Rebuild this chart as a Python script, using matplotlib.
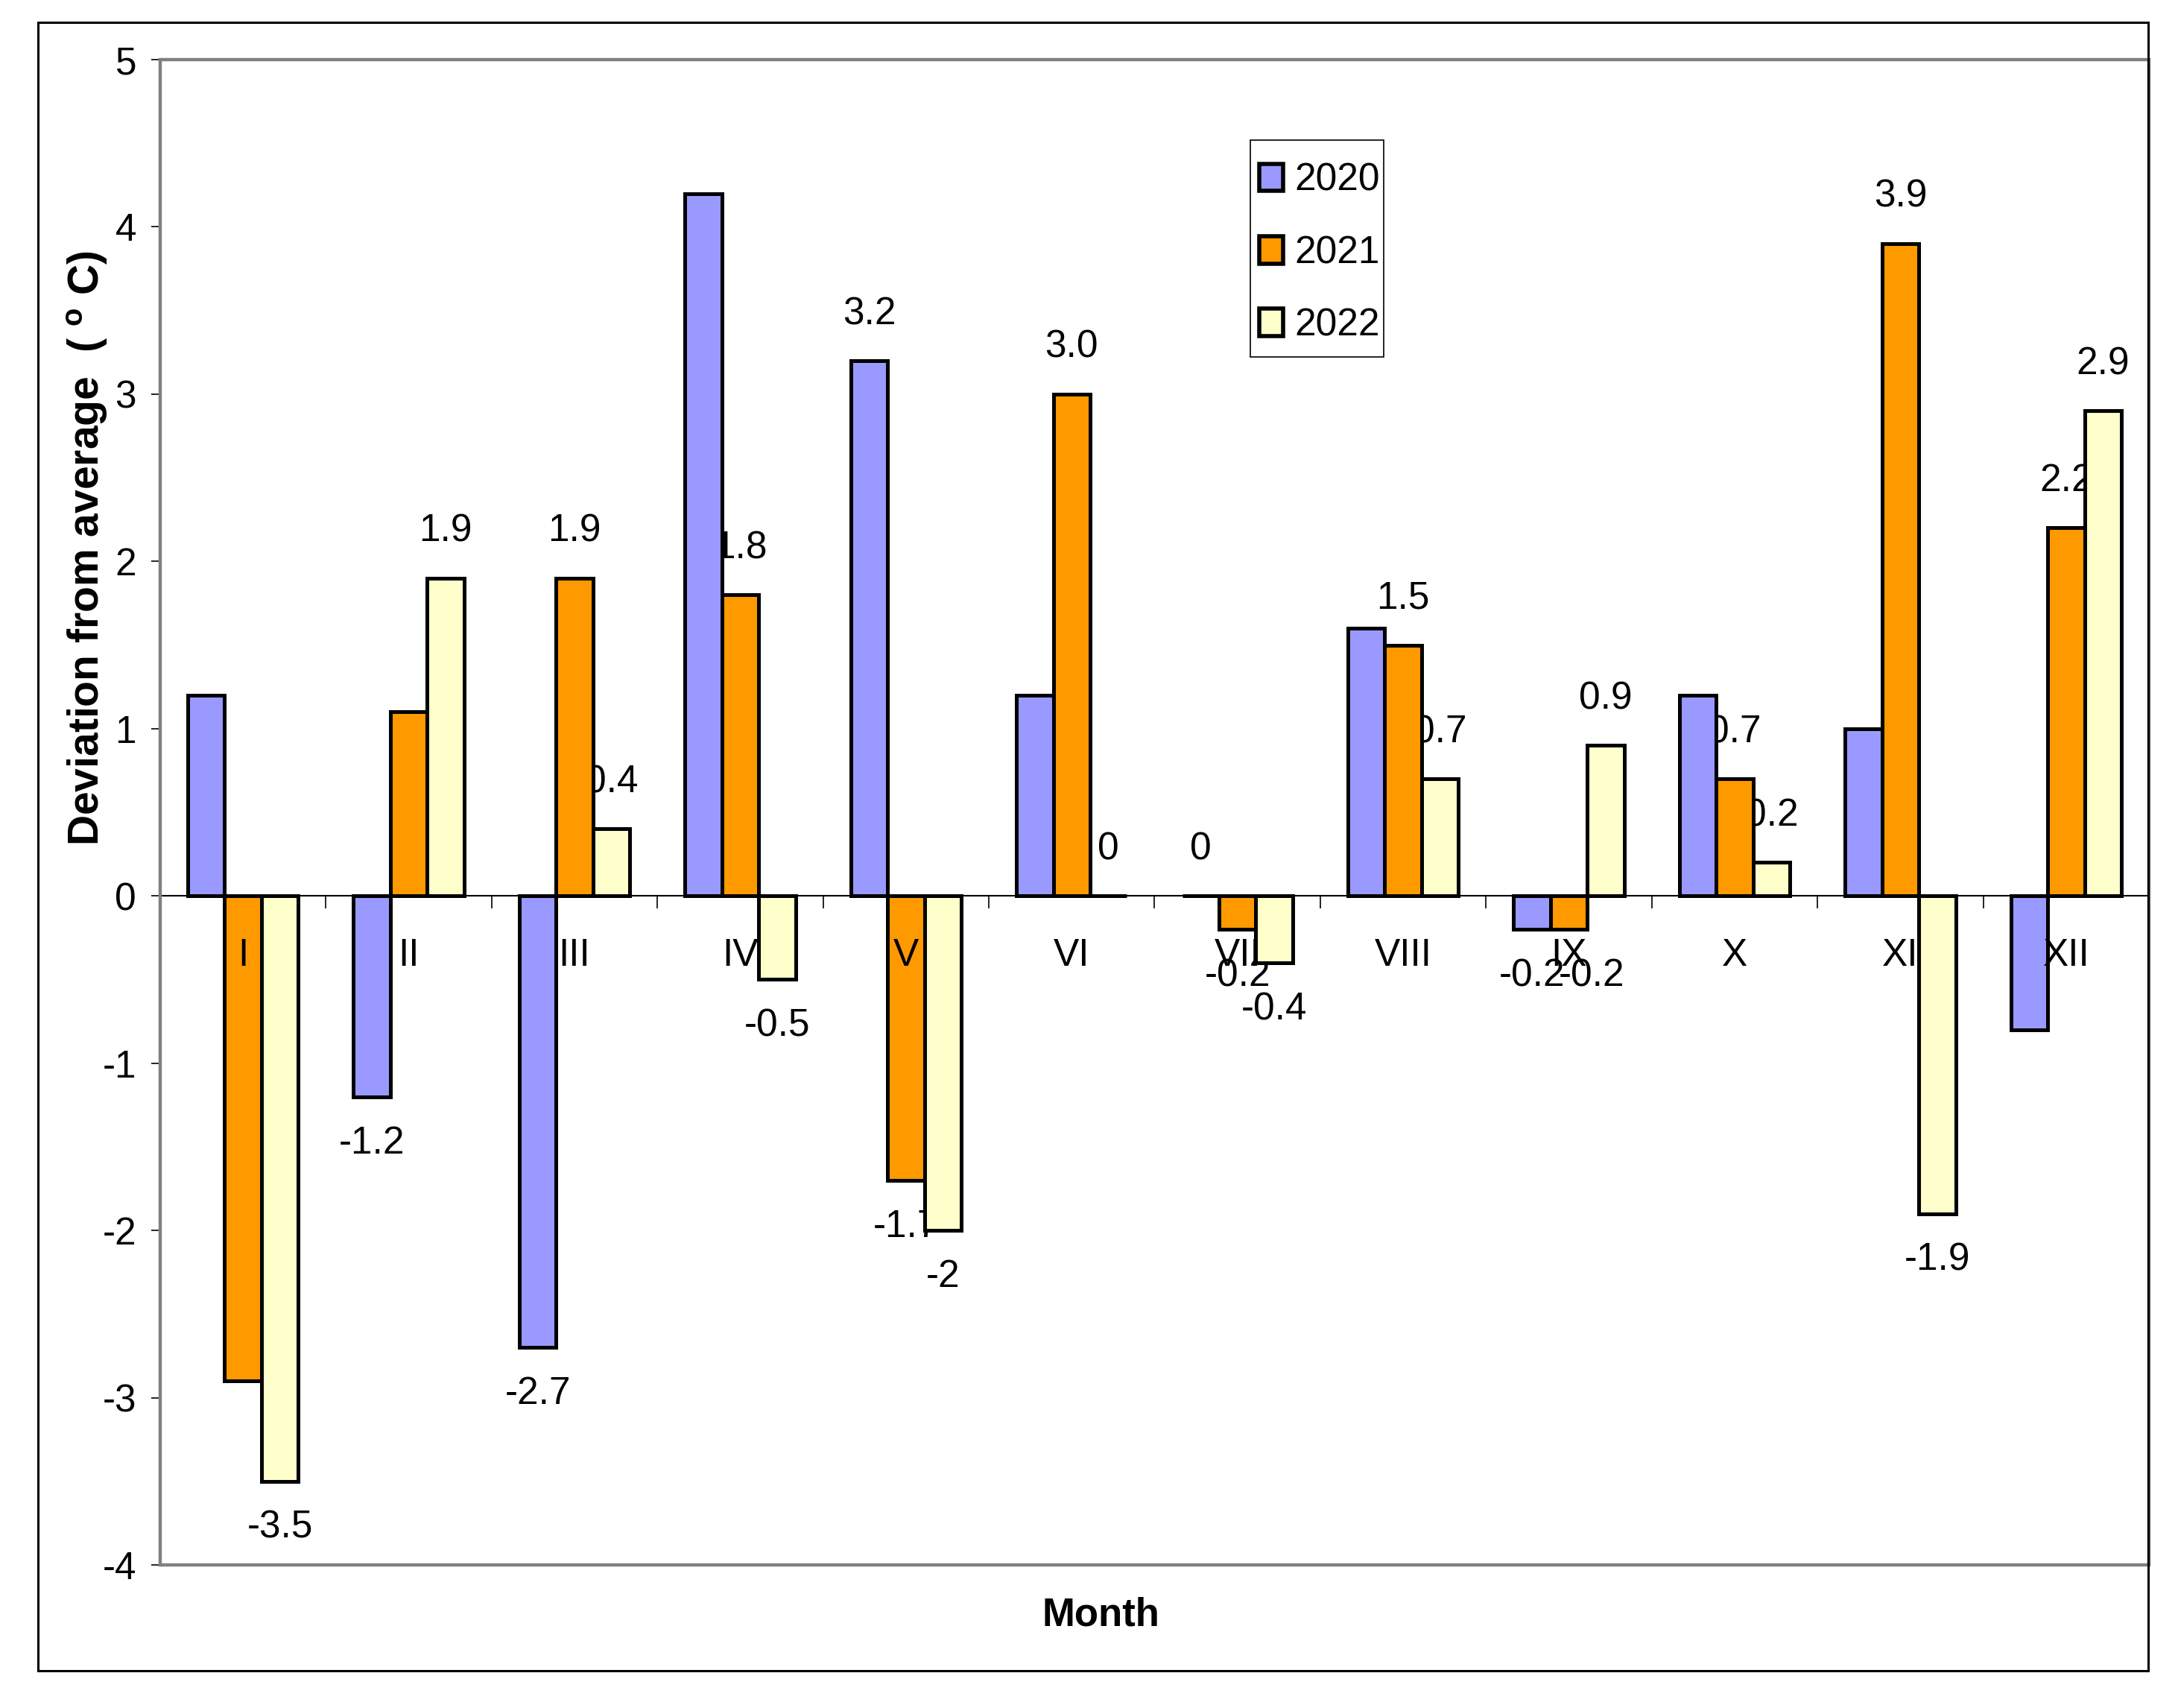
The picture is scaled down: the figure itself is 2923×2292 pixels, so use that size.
import matplotlib
matplotlib.use("Agg")
import matplotlib.pyplot as plt
from matplotlib.patches import Rectangle
import numpy as np

plt.rcParams['font.family'] = ['Liberation Sans', 'DejaVu Sans']
plt.rcParams['mathtext.fontset'] = 'custom'
plt.rcParams['mathtext.rm'] = 'Liberation Sans'
plt.rcParams['mathtext.bf'] = 'Liberation Sans:bold'

months = ["I", "II", "III", "IV", "V", "VI", "VII", "VIII", "IX", "X", "XI", "XII"]
series_names = ["2020", "2021", "2022"]
v2020 = [1.2, -1.2, -2.7, 4.2, 3.2, 1.2, 0.0, 1.6, -0.2, 1.2, 1.0, -0.8]
v2021 = [-2.9, 1.1, 1.9, 1.8, -1.7, 3.0, -0.2, 1.5, -0.2, 0.7, 3.9, 2.2]
v2022 = [-3.5, 1.9, 0.4, -0.5, -2.0, 0.0, -0.4, 0.7, 0.9, 0.2, -1.9, 2.9]
lab2020 = ["", "-1.2", "-2.7", "", "3.2", "", "0", "", "-0.2", "", "", ""]
lab2021 = ["", "", "1.9", "1.8", "-1.7", "3.0", "-0.2", "1.5", "-0.2", "0.7", "3.9", "2.2"]
lab2022 = ["-3.5", "1.9", "0.4", "-0.5", "-2", "0", "-0.4", "0.7", "0.9", "0.2", "-1.9", "2.9"]
yticks = [-4, -3, -2, -1, 0, 1, 2, 3, 4, 5]

colors = ["#9999FF", "#FF9900", "#FFFFCC"]
values = [v2020, v2021, v2022]
labels = [lab2020, lab2021, lab2022]

W, H = 2923, 2292
DPI = 100
fig = plt.figure(figsize=(W / DPI, H / DPI), dpi=DPI)
fig.patch.set_facecolor("white")

# outer chart frame
fig.patches.append(Rectangle((51 / W, 1 - 2242 / H), (2883 - 51) / W, (2242 - 30) / H,
                             transform=fig.transFigure, fill=False, edgecolor="black",
                             linewidth=2.2, zorder=0))

left, right, top, bottom = 215, 2884, 80, 2100
ax = fig.add_axes([left / W, 1 - bottom / H, (right - left) / W, (bottom - top) / H])
ax.set_xlim(-0.5, 11.5)
ax.set_ylim(-4, 5)

x = np.arange(len(months))
w = 1 / 4.5
fs = 37
bar_z = [2.0, 2.1, 3.0]
for j in range(3):
    xs = x + (j - 1) * w
    ax.bar(xs, values[j], width=w, color=colors[j], edgecolor="black",
           linewidth=3.6, label=series_names[j], zorder=bar_z[j])
    prev = labels[j - 1] if j > 0 else [""] * len(months)
    for i, (xi, v, t) in enumerate(zip(xs, values[j], labels[j])):
        if t:
            off = -45 if v < 0 else 45
            # nudge right when the neighbouring label at the same side would collide
            dx = 0
            if prev[i] and (values[j - 1][i] < 0) == (v < 0) and abs(values[j - 1][i] - v) < 0.1:
                dx = 22
            ax.annotate(t, (xi, v), xytext=(dx, off), textcoords="offset points",
                        ha="center", va="center", fontsize=fs, zorder=1)

# plot area border (gray)
ax.add_patch(Rectangle((0, 0), 1, 1, transform=ax.transAxes, fill=False,
                       edgecolor="#808080", linewidth=3.2, clip_on=False, zorder=4))

for s in ["left", "right", "top"]:
    ax.spines[s].set_visible(False)
ax.spines["bottom"].set_position(("data", 0))
ax.spines["bottom"].set_linewidth(1.5)
ax.spines["bottom"].set_color("black")
ax.spines["bottom"].set_zorder(2.2)

ax.set_xticks(np.arange(-0.5, 12, 1))
ax.set_xticklabels([])
ax.set_xticks(x, minor=True)
ax.set_xticklabels(months, minor=True, fontsize=fs)
ax.tick_params(axis="x", which="major", direction="out", length=12, width=1.2, color="black")
ax.tick_params(axis="x", which="minor", length=0, pad=40)
# category labels sit above the 2020/2021 bars but below the 2022 bars
ax.xaxis.set_zorder(2.5)

ax.set_yticks(yticks)
ax.set_yticklabels([str(t) for t in yticks], fontsize=fs)
ax.tick_params(axis="y", direction="out", length=9, width=1.2, pad=14, color="black")

fig.text(118 / W, 1 - 736 / H, "Deviation from average  ( $^{\\mathbf{o}}$ C)",
         rotation=90, ha="center", va="center", fontsize=41, fontweight="bold")
fig.text(1477 / W, 1 - 2167 / H, "Month", ha="center", va="center",
         fontsize=38, fontweight="bold")

# legend box (drawn separately, inside the axes so it stays under the legend entries)
ax.add_patch(Rectangle((1678 / W, 1 - 479 / H), (1857 - 1678) / W, (479 - 188) / H,
                       transform=fig.transFigure, fill=True, facecolor="white",
                       edgecolor="black", linewidth=1.2, zorder=5, clip_on=False))
leg = ax.legend(loc="upper left", bbox_to_anchor=(1690 / W, 1 - 218 / H),
                bbox_transform=fig.transFigure, fontsize=fs, frameon=False,
                borderpad=0, handlelength=0.62, handleheight=0.72, handletextpad=0.3,
                labelspacing=0.94, borderaxespad=0)
leg.set_zorder(6)
for p in leg.get_patches():
    p.set_linewidth(4)

fig.savefig("out.png", dpi=DPI, facecolor="white")
